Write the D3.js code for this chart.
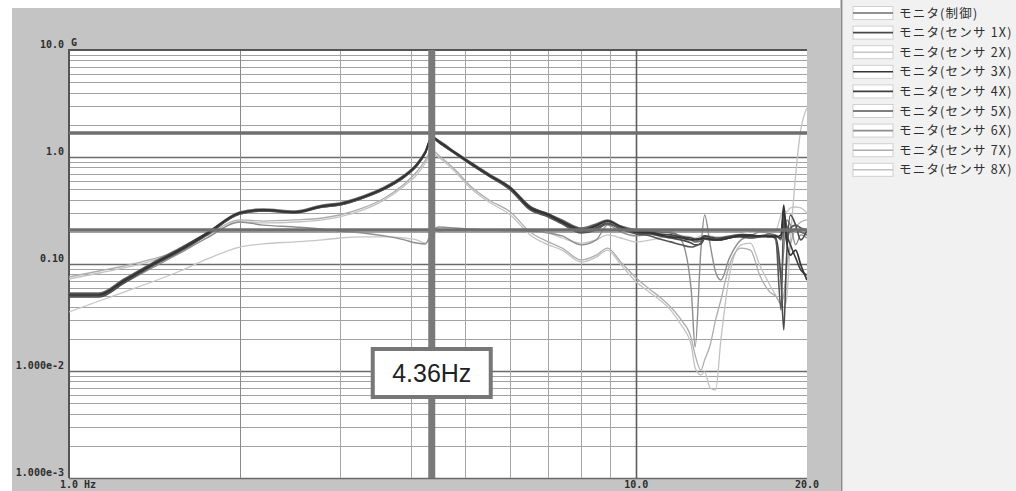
<!DOCTYPE html>
<html>
<head>
<meta charset="utf-8">
<script src="https://cdn.jsdelivr.net/npm/d3@7"></script>
<style>
  body { margin: 0; background: #fff; }
  svg { display: block; }
</style>
</head>
<body>
<div id="chart"></div>
<script>
// frequency points (Hz) shared by every trace
var freqs = [1.0, 1.13, 1.25, 1.4, 1.57, 1.75, 2.0, 2.2, 2.5, 2.8, 3.0, 3.3, 3.6, 3.9, 4.1, 4.25, 4.36, 4.5, 4.8, 5.1,
  5.5, 6.0, 6.5, 7.0, 7.4, 8.0, 8.5, 8.9, 9.4, 10.0, 10.6, 11.0, 11.5, 12.0, 12.5, 12.7, 13.0, 13.2, 13.5, 13.8,
  14.1, 14.6, 15.3, 15.9, 16.5, 17.2, 17.6, 18.0, 18.2, 18.4, 18.7, 19.1, 19.5, 20.0];

// acceleration (G) per trace
var monitorCtrl = [0.0536, 0.0536, 0.0724, 0.102, 0.141, 0.195, 0.306, 0.327, 0.313, 0.356, 0.372, 0.432, 0.524, 0.679, 0.860, 1.14, 1.54, 1.41, 1.11, 0.898,
  0.694, 0.524, 0.348, 0.293, 0.258, 0.217, 0.237, 0.258, 0.226, 0.208, 0.203, 0.199, 0.195, 0.183, 0.168, 0.161, 0.164, 0.183, 0.175, 0.171,
  0.175, 0.183, 0.187, 0.183, 0.183, 0.191, 0.187, 0.168, 0.287, 0.231, 0.199, 0.208, 0.199, 0.187];
var sensor1X = [0.0492, 0.0492, 0.0664, 0.0958, 0.132, 0.187, 0.293, 0.313, 0.300, 0.341, 0.356, 0.414, 0.502, 0.650, 0.824, 1.09, 1.51, 1.35, 1.07, 0.860,
  0.664, 0.502, 0.327, 0.281, 0.242, 0.199, 0.217, 0.242, 0.212, 0.195, 0.191, 0.183, 0.175, 0.168, 0.157, 0.151, 0.154, 0.171, 0.168, 0.168,
  0.171, 0.179, 0.179, 0.175, 0.179, 0.183, 0.175, 0.0708, 0.0242, 0.109, 0.287, 0.231, 0.168, 0.208];
var sensor2X = [0.0356, 0.0451, 0.0547, 0.0679, 0.0860, 0.111, 0.144, 0.154, 0.161, 0.168, 0.175, 0.179, 0.179, 0.175, 0.168, 0.157, 0.183, 0.203, 0.208, 0.208,
  0.208, 0.203, 0.203, 0.195, 0.175, 0.157, 0.168, 0.187, 0.175, 0.161, 0.168, 0.175, 0.183, 0.183, 0.179, 0.175, 0.183, 0.183, 0.183, 0.179,
  0.179, 0.183, 0.191, 0.199, 0.199, 0.203, 0.203, 0.287, 0.320, 0.306, 0.334, 0.341, 0.334, 0.300];
var sensor3X = [0.0513, 0.0513, 0.0693, 0.098, 0.135, 0.191, 0.300, 0.320, 0.306, 0.348, 0.364, 0.423, 0.513, 0.664, 0.842, 1.11, 1.54, 1.38, 1.09, 0.879,
  0.679, 0.513, 0.334, 0.287, 0.247, 0.208, 0.226, 0.252, 0.222, 0.199, 0.195, 0.187, 0.179, 0.175, 0.168, 0.168, 0.171, 0.175, 0.171, 0.168,
  0.168, 0.175, 0.183, 0.183, 0.183, 0.179, 0.179, 0.187, 0.356, 0.168, 0.121, 0.135, 0.098, 0.0708];
var sensor4X = [0.0524, 0.0524, 0.0708, 0.100, 0.138, 0.195, 0.300, 0.320, 0.306, 0.348, 0.364, 0.423, 0.513, 0.664, 0.842, 1.11, 1.54, 1.38, 1.09, 0.879,
  0.679, 0.513, 0.341, 0.293, 0.252, 0.212, 0.231, 0.252, 0.222, 0.203, 0.199, 0.191, 0.187, 0.179, 0.175, 0.171, 0.175, 0.183, 0.179, 0.175,
  0.175, 0.179, 0.187, 0.187, 0.183, 0.183, 0.183, 0.175, 0.320, 0.199, 0.151, 0.114, 0.0879, 0.0789];
var sensor5X = [0.0502, 0.0502, 0.0679, 0.0958, 0.132, 0.187, 0.293, 0.313, 0.306, 0.341, 0.356, 0.414, 0.502, 0.650, 0.824, 1.09, 1.51, 1.35, 1.07, 0.860,
  0.664, 0.491, 0.320, 0.275, 0.237, 0.195, 0.208, 0.237, 0.212, 0.191, 0.183, 0.171, 0.161, 0.151, 0.144, 0.147, 0.157, 0.175, 0.171, 0.168,
  0.168, 0.175, 0.183, 0.179, 0.179, 0.183, 0.179, 0.0371, 0.258, 0.168, 0.217, 0.231, 0.217, 0.208];
var sensor6X = [0.0502, 0.0502, 0.0664, 0.0918, 0.127, 0.175, 0.247, 0.231, 0.222, 0.212, 0.203, 0.195, 0.183, 0.168, 0.157, 0.154, 0.199, 0.222, 0.217, 0.212,
  0.208, 0.208, 0.203, 0.195, 0.183, 0.151, 0.168, 0.231, 0.199, 0.183, 0.191, 0.195, 0.199, 0.168, 0.0572, 0.0168, 0.135, 0.287, 0.151, 0.0842,
  0.0708, 0.114, 0.168, 0.183, 0.199, 0.191, 0.168, 0.0789, 0.135, 0.258, 0.231, 0.151, 0.187, 0.175];
var sensor7X = [0.0756, 0.0860, 0.0958, 0.111, 0.135, 0.183, 0.258, 0.252, 0.258, 0.269, 0.287, 0.334, 0.414, 0.560, 0.724, 0.937, 1.16, 1.02, 0.756, 0.536,
  0.397, 0.306, 0.199, 0.161, 0.141, 0.109, 0.121, 0.141, 0.104, 0.0740, 0.0572, 0.0492, 0.0396, 0.0300, 0.0203, 0.0141, 0.0102, 0.0127, 0.0175, 0.0300,
  0.0461, 0.098, 0.141, 0.135, 0.0789, 0.0547, 0.0502, 0.0432, 0.0513, 0.0879, 0.151, 0.217, 0.247, 0.258];
var sensor8X = [0.0724, 0.0824, 0.0918, 0.107, 0.132, 0.175, 0.247, 0.242, 0.247, 0.258, 0.275, 0.320, 0.397, 0.536, 0.679, 0.879, 1.09, 0.979, 0.724, 0.513,
  0.380, 0.287, 0.187, 0.151, 0.135, 0.104, 0.116, 0.135, 0.098, 0.0679, 0.0536, 0.0461, 0.0371, 0.0269, 0.0175, 0.0107, 0.00918, 0.0098, 0.00694, 0.00664,
  0.0195, 0.0789, 0.151, 0.157, 0.098, 0.0637, 0.0513, 0.0414, 0.0396, 0.0461, 0.168, 0.679, 1.79, 2.87];

var seriesNames = ['モニタ(制御)', 'モニタ(センサ 1X)', 'モニタ(センサ 2X)', 'モニタ(センサ 3X)', 'モニタ(センサ 4X)',
  'モニタ(センサ 5X)', 'モニタ(センサ 6X)', 'モニタ(センサ 7X)', 'モニタ(センサ 8X)'];
var seriesValues = [monitorCtrl, sensor1X, sensor2X, sensor3X, sensor4X, sensor5X, sensor6X, sensor7X, sensor8X];

// axis labels
var yTickValues = [10, 1, 0.1, 0.01, 0.001];
var yTickLabels = ['10.0', '1.0', '0.10', '1.000e-2', '1.000e-3'];
var xTickValues = [1, 10, 20];
var xTickLabels = ['1.0 Hz', '10.0', '20.0'];

// cursor readout
var cursorFreq = 4.36;
var cursorLevels = [1.68, 0.208];
var cursorLabel = '4.36Hz';

// line look per trace, same order as seriesNames
var lineStyles = [
  {color: '#6c6c6c', width: 1.6},
  {color: '#4a4a4a', width: 1.6},
  {color: '#c6c6c6', width: 1.3},
  {color: '#333333', width: 1.7},
  {color: '#3f3f3f', width: 1.6},
  {color: '#555555', width: 1.6},
  {color: '#8e8e8e', width: 1.4},
  {color: '#adadad', width: 1.3},
  {color: '#c2c2c2', width: 1.3}
];
var drawOrder = [2, 8, 7, 6, 0, 1, 5, 4, 3];

var W = 1016, H = 491;
var plot = {left: 69, top: 50, right: 807, bottom: 478};

var svg = d3.select('#chart').append('svg')
  .attr('width', W)
  .attr('height', H);

// window backgrounds
svg.append('rect').attr('width', W).attr('height', H).attr('fill', '#ffffff');
svg.append('rect')
  .attr('x', 12).attr('y', 8)
  .attr('width', 828).attr('height', H - 8)
  .attr('fill', '#c4c4c4');
svg.append('rect')
  .attr('x', 843).attr('y', 0)
  .attr('width', W - 843).attr('height', H)
  .attr('fill', '#f1f1f1');
svg.append('line')
  .attr('x1', 841.5).attr('x2', 841.5).attr('y1', 0).attr('y2', H)
  .attr('stroke', '#8c8c8c').attr('stroke-width', 2);

// set the ranges
var x = d3.scaleLog().domain([1, 20]).range([plot.left, plot.right]);
var y = d3.scaleLog().domain([0.001, 10]).range([plot.bottom, plot.top]);

svg.append('rect')
  .attr('x', plot.left).attr('y', plot.top)
  .attr('width', plot.right - plot.left).attr('height', plot.bottom - plot.top)
  .attr('fill', '#ffffff');

svg.append('clipPath').attr('id', 'plotClip')
  .append('rect')
  .attr('x', plot.left).attr('y', plot.top)
  .attr('width', plot.right - plot.left).attr('height', plot.bottom - plot.top);

function isDecade(v) {
  return Math.abs(Math.log10(v) - Math.round(Math.log10(v))) < 1e-6;
}

// horizontal grid, one line per 1..9 of each decade
svg.append('g').selectAll('line')
  .data(y.ticks().filter(function(d) { return d < 10; }))
  .enter().append('line')
  .attr('x1', plot.left).attr('x2', plot.right)
  .attr('y1', function(d) { return Math.round(y(d)) + 0.5; })
  .attr('y2', function(d) { return Math.round(y(d)) + 0.5; })
  .attr('stroke', function(d) { return isDecade(d) ? '#6a6a6a' : '#a2a2a2'; })
  .attr('stroke-width', function(d) { return isDecade(d) ? 1.6 : 1; });

// vertical grid up to 10 Hz
svg.append('g').selectAll('line')
  .data(x.ticks().filter(function(d) { return d > 1 && d <= 10; }))
  .enter().append('line')
  .attr('x1', function(d) { return Math.round(x(d)) + 0.5; })
  .attr('x2', function(d) { return Math.round(x(d)) + 0.5; })
  .attr('y1', plot.top).attr('y2', plot.bottom)
  .attr('stroke', function(d) { return d === 10 ? '#5c5c5c' : (d === 2 ? '#8a8a8a' : '#a6a6a6'); })
  .attr('stroke-width', function(d) { return d === 10 ? 1.6 : 1; });

// frame on the left and top
svg.append('line')
  .attr('x1', plot.left).attr('x2', plot.left).attr('y1', plot.top - 1).attr('y2', plot.bottom)
  .attr('stroke', '#555').attr('stroke-width', 2);
svg.append('line')
  .attr('x1', plot.left).attr('x2', plot.right).attr('y1', plot.top).attr('y2', plot.top)
  .attr('stroke', '#555').attr('stroke-width', 2);

// traces
var line = d3.line()
  .x(function(d) { return x(d[0]); })
  .y(function(d) { return y(d[1]); })
  .curve(d3.curveMonotoneX);

var traces = svg.append('g').attr('clip-path', 'url(#plotClip)');
drawOrder.forEach(function(i) {
  var pts = freqs.map(function(f, k) { return [f, seriesValues[i][k]]; });
  traces.append('path')
    .datum(pts)
    .attr('fill', 'none')
    .attr('stroke', lineStyles[i].color)
    .attr('stroke-width', lineStyles[i].width)
    .attr('stroke-linejoin', 'round')
    .attr('d', line);
});

// cursors
var cursors = svg.append('g').attr('clip-path', 'url(#plotClip)');
cursors.selectAll('.hcur')
  .data(cursorLevels)
  .enter().append('line')
  .attr('class', 'hcur')
  .attr('x1', plot.left).attr('x2', plot.right)
  .attr('y1', function(d) { return y(d); })
  .attr('y2', function(d) { return y(d); })
  .attr('stroke', '#6e6e6e').attr('stroke-width', 3.5);
cursors.append('line')
  .attr('x1', x(cursorFreq)).attr('x2', x(cursorFreq))
  .attr('y1', plot.top).attr('y2', plot.bottom)
  .attr('stroke', '#7a7a7a').attr('stroke-width', 7);

// cursor readout box
var cx = x(cursorFreq);
svg.append('rect')
  .attr('x', cx - 59).attr('y', 349)
  .attr('width', 118).attr('height', 48)
  .attr('fill', '#ffffff')
  .attr('stroke', '#777').attr('stroke-width', 4);
svg.append('text')
  .attr('x', cx).attr('y', 373)
  .attr('dy', '0.36em')
  .attr('text-anchor', 'middle')
  .style('font-family', '"Liberation Sans", Arial, sans-serif')
  .style('font-size', '25px')
  .attr('fill', '#222')
  .text(cursorLabel);

// axis labels
var tickFont = '"DejaVu Sans Mono", monospace';
svg.append('g').selectAll('text')
  .data(yTickValues)
  .enter().append('text')
  .attr('x', plot.left - 5)
  .attr('y', function(d) { return y(d) - 6; })
  .attr('dy', '0.35em')
  .attr('text-anchor', 'end')
  .style('font-family', tickFont)
  .style('font-size', '10px')
  .style('font-weight', 'bold')
  .attr('fill', '#2e2e2e')
  .text(function(d, i) { return yTickLabels[i]; });

svg.append('text')
  .attr('x', plot.left + 2).attr('y', plot.top - 4)
  .style('font-family', tickFont)
  .style('font-size', '10px')
  .style('font-weight', 'bold')
  .attr('fill', '#2e2e2e')
  .text('G');

svg.append('g').selectAll('text')
  .data(xTickValues)
  .enter().append('text')
  .attr('x', function(d) { return x(d); })
  .attr('y', 484)
  .attr('dy', '0.35em')
  .attr('text-anchor', function(d, i) { return i === 0 ? 'start' : 'middle'; })
  .attr('dx', function(d, i) { return i === 0 ? -9 : 0; })
  .style('font-family', tickFont)
  .style('font-size', '10px')
  .style('font-weight', 'bold')
  .attr('fill', '#2e2e2e')
  .text(function(d, i) { return xTickLabels[i]; });

// legend
var legend = svg.append('g').selectAll('g')
  .data(seriesNames)
  .enter().append('g')
  .attr('transform', function(d, i) { return 'translate(853,' + (13 + i * 19.6) + ')'; });
legend.append('rect')
  .attr('x', 0).attr('y', -6.5)
  .attr('width', 40).attr('height', 13)
  .attr('fill', '#ffffff')
  .attr('stroke', '#d0d0d0');
legend.append('line')
  .attr('x1', 0).attr('x2', 40).attr('y1', 0).attr('y2', 0)
  .attr('stroke', function(d, i) { return lineStyles[i].color; })
  .attr('stroke-width', 1.6);
legend.append('text')
  .attr('x', 46).attr('y', 0)
  .attr('dy', '0.36em')
  .style('font-family', '"Noto Sans CJK JP", sans-serif')
  .style('font-size', '12.5px')
  .style('letter-spacing', '1.2px')
  .attr('fill', '#2e2e2e')
  .text(function(d) { return d; });
</script>
</body>
</html>
